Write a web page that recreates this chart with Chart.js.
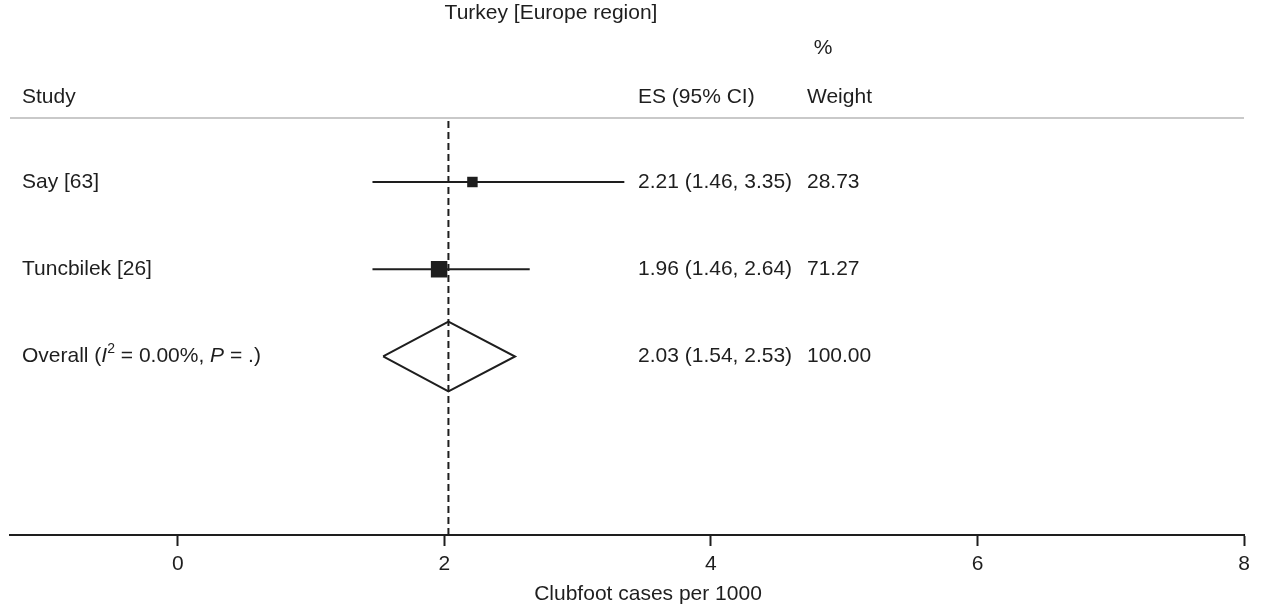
<!DOCTYPE html>
<html>
<head>
<meta charset="utf-8">
<title>Turkey [Europe region] – clubfoot forest plot</title>
<script src="https://cdn.jsdelivr.net/npm/chart.js@4"></script>
<style>
  html, body { margin: 0; padding: 0; background: #ffffff; }
  canvas { display: block; }
</style>
</head>
<body>
<canvas id="forest" width="1263" height="608"></canvas>
<script>
// ---- study data ----
const studies   = ['Say [63]', 'Tuncbilek [26]'];
const estimates = [2.21, 1.96];
const lowerCI   = [1.46, 1.46];
const upperCI   = [3.35, 2.64];
const weights   = [28.73, 71.27];

// ---- pooled estimate ----
const overallEstimate = [2.03];
const overallLower    = [1.54];
const overallUpper    = [2.53];
const overallWeight   = [100.00];

// ---- axis ----
const xTicks = [0, 2, 4, 6, 8];
const xTitle = 'Clubfoot cases per 1000';
const plotTitle = 'Turkey [Europe region]';

// ---- layout helpers (row index: 0 = header, 1..n = studies, n+1 = overall) ----
const studyRows   = studies.map((_, i) => i + 1);
const overallRow  = studies.length + 1;
const Y_MIN = -1.086, Y_MAX = 5.046;
const X_MIN = -1.26,  X_MAX = 8;
const DIAMOND_HALF = 0.40;   // half-height of the pooled diamond, in rows
const REF_TOP = 0.30;        // reference line starts just under the header rule

const FONT = '"Liberation Sans", Arial, Helvetica, sans-serif';
const INK = '#1e1e1e';

Chart.defaults.font.family = FONT;
Chart.defaults.color = INK;

const ciLineSets = studies.map((s, i) => ({
  label: s + ' CI',
  type: 'scatter',
  showLine: true,
  data: [{ x: lowerCI[i], y: studyRows[i] }, { x: upperCI[i], y: studyRows[i] }],
  borderColor: INK,
  borderWidth: 2,
  pointRadius: 0,
  order: 2
}));

const squareSet = {
  label: 'estimates',
  type: 'scatter',
  data: studies.map((s, i) => ({ x: estimates[i], y: studyRows[i] })),
  pointStyle: 'rect',
  pointRadius: weights.map(w => 1.38 * Math.sqrt(w)),
  backgroundColor: INK,
  borderWidth: 0,
  order: 0
};

const diamondSet = {
  label: 'overall',
  type: 'scatter',
  showLine: true,
  data: [
    { x: overallLower[0],    y: overallRow },
    { x: overallEstimate[0], y: overallRow - DIAMOND_HALF },
    { x: overallUpper[0],    y: overallRow },
    { x: overallEstimate[0], y: overallRow + DIAMOND_HALF },
    { x: overallLower[0],    y: overallRow }
  ],
  borderColor: INK,
  borderWidth: 2,
  pointRadius: 0,
  fill: false,
  order: 1
};

const refLineSet = {
  label: 'overall reference',
  type: 'scatter',
  showLine: true,
  data: [{ x: overallEstimate[0], y: REF_TOP }, { x: overallEstimate[0], y: Y_MAX }],
  borderColor: INK,
  borderWidth: 2,
  borderDash: [7, 4],
  pointRadius: 0,
  order: 3
};

// Text columns, header rule and axis title
const forestText = {
  id: 'forestText',
  afterDraw(chart) {
    const { ctx, chartArea, scales } = chart;
    const y = scales.y;
    const f = (size, style) => `${style || ''} ${size}px ${FONT}`.trim();
    ctx.save();
    ctx.fillStyle = INK;
    ctx.textBaseline = 'middle';

    // title and headers
    ctx.font = f(21);
    ctx.textAlign = 'center';
    ctx.fillText(plotTitle, 551, 13);
    ctx.fillText('%', 823, 48);
    ctx.textAlign = 'left';
    ctx.fillText('Study', 22, 97);
    ctx.fillText('ES (95% CI)', 638, 97);
    ctx.fillText('Weight', 807, 97);

    // header rule
    ctx.strokeStyle = '#c9c9c9';
    ctx.lineWidth = 2;
    ctx.beginPath();
    ctx.moveTo(chartArea.left, 118);
    ctx.lineTo(chartArea.right, 118);
    ctx.stroke();

    // study rows
    studies.forEach((s, i) => {
      const py = y.getPixelForValue(studyRows[i]);
      ctx.fillText(s, 22, py);
      ctx.fillText(`${estimates[i].toFixed(2)} (${lowerCI[i].toFixed(2)}, ${upperCI[i].toFixed(2)})`, 638, py);
      ctx.fillText(weights[i].toFixed(2), 807, py);
    });

    // overall row with italic I², P
    const oy = y.getPixelForValue(overallRow);
    let x = 22;
    const put = (txt, font, dy) => {
      ctx.font = font;
      ctx.fillText(txt, x, oy + (dy || 0));
      x += ctx.measureText(txt).width;
    };
    put('Overall (', f(21));
    put('I', f(21, 'italic'));
    put('2', f(14), -7);
    put(' = 0.00%, ', f(21));
    put('P', f(21, 'italic'));
    put(' = .)', f(21));
    ctx.font = f(21);
    ctx.fillText(`${overallEstimate[0].toFixed(2)} (${overallLower[0].toFixed(2)}, ${overallUpper[0].toFixed(2)})`, 638, oy);
    ctx.fillText(overallWeight[0].toFixed(2), 807, oy);

    // x-axis title
    ctx.textAlign = 'center';
    ctx.fillText(xTitle, 648, 594);
    ctx.restore();
  }
};

new Chart(document.getElementById('forest'), {
  type: 'scatter',
  data: { datasets: [...ciLineSets, squareSet, diamondSet, refLineSet] },
  options: {
    responsive: false,
    animation: false,
    events: [],
    layout: { autoPadding: false, padding: { left: 10, right: 19, top: 0, bottom: 0 } },
    plugins: { legend: { display: false }, tooltip: { enabled: false }, title: { display: false } },
    scales: {
      x: {
        type: 'linear',
        min: X_MIN,
        max: X_MAX,
        afterBuildTicks(scale) { scale.ticks = xTicks.map(v => ({ value: v })); },
        afterFit(scale) { scale.height = 73; },
        grid: {
          display: true,
          drawOnChartArea: false,
          drawTicks: true,
          tickLength: 11,
          tickWidth: 2,
          tickColor: INK
        },
        border: { display: true, color: INK, width: 2 },
        ticks: {
          autoSkip: false,
          maxRotation: 0,
          padding: 6,
          color: INK,
          font: { size: 21, family: FONT },
          callback: v => String(v)
        }
      },
      y: {
        type: 'linear',
        reverse: true,
        min: Y_MIN,
        max: Y_MAX,
        display: false
      }
    }
  },
  plugins: [forestText]
});
</script>
</body>
</html>
